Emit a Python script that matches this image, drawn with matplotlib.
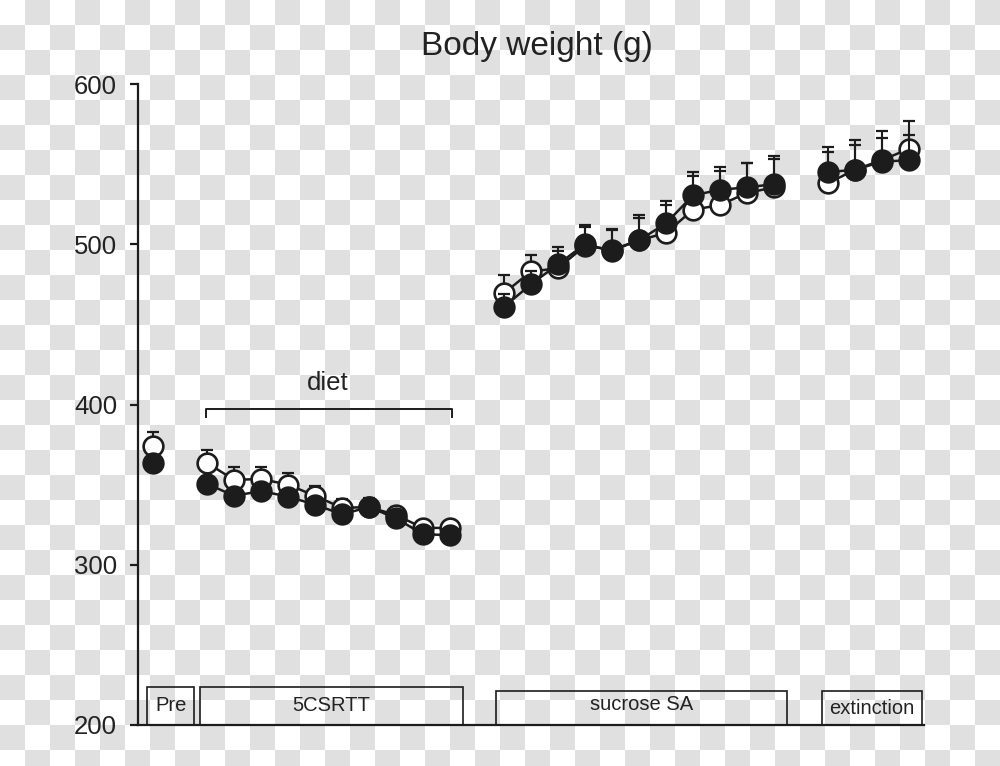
import numpy as np
import matplotlib
matplotlib.use("Agg")
import matplotlib.pyplot as plt
from matplotlib.patches import Rectangle
from matplotlib.colors import ListedColormap

plt.rcParams['font.family'] = ['Liberation Sans', 'DejaVu Sans']

# ---------------- data ----------------
x_pre = [0]
x_5c = [2, 3, 4, 5, 6, 7, 8, 9, 10, 11]
x_suc = [13, 14, 15, 16, 17, 18, 19, 20, 21, 22, 23]
x_ext = [25, 26, 27, 28]

open_pre = [374]
open_pre_err = [9]
filled_pre = [363.5]
filled_pre_err = [5]

open_5c = [363.5, 353, 353.5, 350, 343, 335.5, 336, 331, 323, 323]
open_5c_err = [8, 8, 7.5, 7.5, 6, 5.5, 5, 5, 3, 3]
filled_5c = [350.5, 343, 346, 342.5, 337.5, 331.5, 336, 329, 319, 318.5]
filled_5c_err = [5, 4, 5, 4, 4, 4, 5.5, 5, 3, 3]

open_suc = [469.5, 483, 485, 499, 496.5, 502.5, 507, 521.5, 524.5, 532, 535.5]
open_suc_err = [11, 10.5, 11, 12, 13, 16, 17.5, 23.5, 23.5, 18.5, 19.5]
filled_suc = [461, 475, 487.5, 500, 496, 502.5, 513, 530.5, 534, 535.5, 537.5]
filled_suc_err = [8, 8, 10.5, 12, 13, 14, 14, 12, 11.5, 15, 15.5]

open_ext = [538, 546.5, 552.5, 559.5]
open_ext_err = [22.5, 18.5, 18, 17.5]
filled_ext = [545, 546.5, 551.5, 552.5]
filled_ext_err = [12.5, 15.5, 14.5, 15.5]

phase_labels = ["Pre", "5CSRTT", "sucrose SA", "extinction"]
y_ticks = [200, 300, 400, 500, 600]

# ---------------- figure ----------------
W, H = 1000, 766
fig = plt.figure(figsize=(W / 100, H / 100), dpi=100)

# checkerboard background
bg = fig.add_axes([0, 0, 1, 1])
sq = 25
nr, nc = int(np.ceil(H / sq)), int(np.ceil(W / sq))
board = (np.add.outer(np.arange(nr), np.arange(nc)) % 2).astype(float)
bg.imshow(board, cmap=ListedColormap(['#ffffff', '#e0e0e0']), interpolation='nearest',
          extent=(0, nc * sq, nr * sq, 0), aspect='auto', vmin=0, vmax=1)
bg.set_xlim(0, W)
bg.set_ylim(H, 0)
bg.axis('off')
bg.set_zorder(0)

ax = fig.add_axes([0.138, 41 / H, 0.786, (725 - 84) / H])
ax.set_zorder(1)
ax.patch.set_alpha(0)
ax.set_xlim(-0.56, 28.56)
ax.set_ylim(200, 600)

ink = '#1c1c1c'
ms = 14.2
mew = 1.9
lw = 1.8

groups = [
    (x_pre, open_pre, open_pre_err, filled_pre, filled_pre_err),
    (x_5c, open_5c, open_5c_err, filled_5c, filled_5c_err),
    (x_suc, open_suc, open_suc_err, filled_suc, filled_suc_err),
    (x_ext, open_ext, open_ext_err, filled_ext, filled_ext_err),
]

for xs, yo, eo, yf, ef in groups:
    # open series
    ax.errorbar(xs, yo, yerr=[np.zeros(len(eo)), eo], fmt='none', ecolor=ink,
                elinewidth=1.5, capsize=4, capthick=1.6, zorder=2)
    ax.plot(xs, yo, '-', color=ink, lw=lw, zorder=3)
    ax.plot(xs, yo, 'o', ms=ms, mfc='white', mec=ink, mew=mew, zorder=4, ls='none')
for xs, yo, eo, yf, ef in groups:
    # filled series
    ax.errorbar(xs, yf, yerr=[np.zeros(len(ef)), ef], fmt='none', ecolor=ink,
                elinewidth=1.5, capsize=4, capthick=1.6, zorder=5)
    ax.plot(xs, yf, '-', color=ink, lw=lw, zorder=6)
    ax.plot(xs, yf, 'o', ms=ms, mfc=ink, mec=ink, mew=mew, zorder=7, ls='none')

# phase boxes
boxes = [(-0.22, 1.52, 223.7, 211.9), (1.74, 11.48, 223.7, 211.9),
         (12.70, 23.48, 221.2, 213.1), (24.78, 28.48, 221.2, 210.2)]
for (x0, x1, top, ty), lab in zip(boxes, phase_labels):
    ax.add_patch(Rectangle((x0, 200), x1 - x0, top - 200, fill=False, ec=ink,
                           lw=1.2, zorder=8, clip_on=False))
    ax.text((x0 + x1) / 2, ty, lab, ha='center', va='center', fontsize=14.5,
            color='#222222', zorder=9)

# diet bracket
ax.plot([1.96, 1.96, 11.07, 11.07], [392.2, 397.2, 397.2, 392.2], color=ink, lw=1.4,
        zorder=8)
ax.text(6.48, 413.4, "diet", ha='center', va='center', fontsize=18.5, color='#222222')

# axes styling
for s in ['top', 'right']:
    ax.spines[s].set_visible(False)
for s in ['left', 'bottom']:
    ax.spines[s].set_linewidth(1.6)
    ax.spines[s].set_color(ink)
ax.set_xticks([])
ax.set_yticks(y_ticks)
ax.set_yticklabels([str(v) for v in y_ticks])
ax.tick_params(axis='y', length=6, width=1.6, color=ink, pad=9, labelsize=18.5,
               labelcolor='#222222')

fig.text(0.537, 1 - 47 / H, "Body weight (g)", ha='center', va='center', fontsize=24,
         color='#222222')

fig.savefig("out.png", dpi=100)
